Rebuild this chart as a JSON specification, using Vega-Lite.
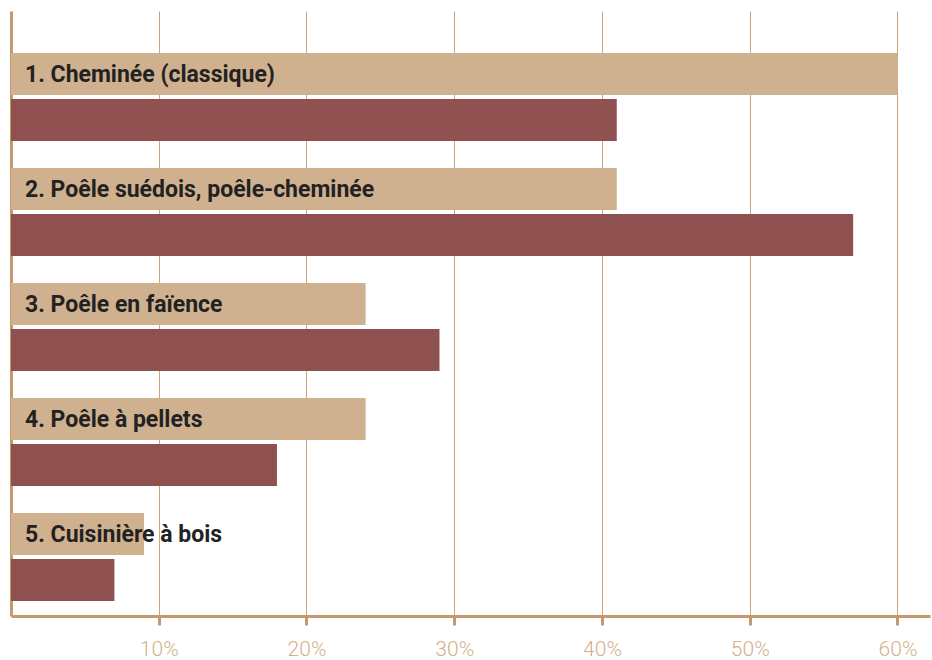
{
  "$schema": "https://vega.github.io/schema/vega-lite/v6.json",
  "autosize": {"type": "none"},
  "width": 919,
  "height": 605,
  "padding": {"left": 11, "top": 11, "right": 2, "bottom": 44},
  "background": "white",
  "data": {"values": [
    {"cat": "1. Cheminée (classique)", "serie": "Série 1", "pct": 60},
    {"cat": "1. Cheminée (classique)", "serie": "Série 2", "pct": 41},
    {"cat": "2. Poêle suédois, poêle-cheminée", "serie": "Série 1", "pct": 41},
    {"cat": "2. Poêle suédois, poêle-cheminée", "serie": "Série 2", "pct": 57},
    {"cat": "3. Poêle en faïence", "serie": "Série 1", "pct": 24},
    {"cat": "3. Poêle en faïence", "serie": "Série 2", "pct": 29},
    {"cat": "4. Poêle à pellets", "serie": "Série 1", "pct": 24},
    {"cat": "4. Poêle à pellets", "serie": "Série 2", "pct": 18},
    {"cat": "5. Cuisinière à bois", "serie": "Série 1", "pct": 9},
    {"cat": "5. Cuisinière à bois", "serie": "Série 2", "pct": 7}
  ]},
  "encoding": {
    "y": {"field": "cat", "type": "nominal", "sort": null,
      "scale": {"paddingInner": 0.235, "paddingOuter": 0.248, "align": 0.737},
      "axis": {"title": null, "labels": false, "ticks": false, "grid": false, "domainColor": "#C49A6C", "domainWidth": 3}},
    "yOffset": {"field": "serie", "type": "nominal", "scale": {"paddingInner": 0.09, "paddingOuter": 0}}
  },
  "layer": [
    {
      "mark": {"type": "bar"},
      "encoding": {
        "x": {"field": "pct", "type": "quantitative",
          "scale": {"domain": [0, 62.2], "nice": false, "zero": true},
          "axis": {"title": null, "values": [10, 20, 30, 40, 50, 60],
            "labelExpr": "datum.value + '%'",
            "grid": true, "gridColor": "#C9A57A", "gridWidth": 1,
            "domainColor": "#C49A6C", "domainWidth": 3,
            "tickColor": "#C49A6C", "tickWidth": 3, "tickSize": 9,
            "labelColor": "#D4B08A", "labelFont": "Roboto", "labelFontWeight": 300, "labelFontSize": 21,
            "labelPadding": 13}},
        "color": {"field": "serie", "type": "nominal",
          "scale": {"range": ["#D0B18F", "#8E5150"]}, "legend": null}
      }
    },
    {
      "transform": [{"filter": "datum.serie == 'Série 1'"}],
      "mark": {"type": "text", "align": "left", "baseline": "middle", "dx": 14, "dy": 1,
        "font": "Roboto", "fontWeight": "bold", "fontSize": 23, "color": "#222222"},
      "encoding": {
        "x": {"datum": 0, "type": "quantitative"},
        "text": {"field": "cat"}
      }
    }
  ],
  "config": {"view": {"stroke": null}}
}
